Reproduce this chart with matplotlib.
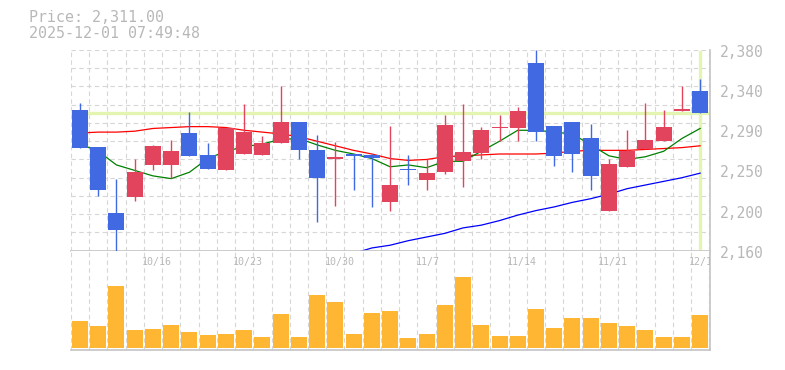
import numpy as np
import matplotlib
matplotlib.use('Agg')
import matplotlib.pyplot as plt
from matplotlib import transforms

# daily OHLC, 10/9 .. 12/1 (35 sessions)
opens = [2314, 2274, 2201, 2219, 2254, 2254, 2289, 2265, 2248, 2266, 2265, 2278,
         2301, 2270, 2260, 2266, 2265, 2213, 2250, 2237, 2246, 2258, 2267, 2294,
         2295, 2366, 2297, 2301, 2284, 2203, 2252, 2271, 2280, 2313, 2335]
highs = [2322, 2274, 2239, 2261, 2276, 2281, 2312, 2278, 2295, 2321, 2286, 2341,
         2301, 2287, 2279, 2266, 2266, 2297, 2265, 2260, 2309, 2321, 2296, 2309,
         2318, 2380, 2297, 2301, 2299, 2260, 2292, 2322, 2314, 2341, 2348]
lows = [2273, 2220, 2160, 2215, 2248, 2240, 2264, 2250, 2248, 2266, 2265, 2278,
        2261, 2191, 2209, 2226, 2208, 2203, 2232, 2226, 2244, 2230, 2261, 2280,
        2280, 2280, 2253, 2246, 2227, 2203, 2252, 2271, 2280, 2313, 2311]
closes = [2273, 2226, 2183, 2246, 2275, 2269, 2264, 2250, 2295, 2290, 2278, 2301,
          2270, 2240, 2263, 2264, 2262, 2232, 2248, 2245, 2298, 2268, 2292, 2296,
          2313, 2290, 2264, 2266, 2242, 2255, 2269, 2281, 2296, 2315, 2311]
volume = [267, 217, 617, 177, 187, 227, 157, 127, 137, 177, 107, 337,
          107, 527, 457, 137, 347, 367, 97, 137, 427, 707, 227, 117,
          117, 387, 197, 297, 297, 247, 217, 177, 107, 107, 327]

ma_short = [2277, 2269, 2254, 2248, 2242, 2239, 2246, 2261, 2269, 2274, 2277, 2282,
            2283, 2276, 2270, 2266, 2261, 2252, 2254, 2251, 2258, 2258, 2269, 2280,
            2292, 2292, 2290, 2288, 2276, 2264, 2260, 2263, 2269, 2283, 2294]
ma_mid = [2289, 2290, 2290, 2291, 2294, 2295, 2296, 2296, 2295, 2292, 2290, 2288,
          2285, 2280, 2275, 2270, 2266, 2261, 2259, 2260, 2263, 2264, 2265, 2266,
          2266, 2266, 2267, 2269, 2270, 2270, 2270, 2271, 2272, 2273, 2275]
ma_long = [None] * 15 + [2157, 2163, 2166, 2171, 2175, 2179, 2185, 2188, 2193, 2199,
                         2204, 2208, 2213, 2217, 2222, 2228, 2232, 2236, 2240, 2245]

date_labels = {4: '10/16', 9: '10/23', 14: '10/30', 19: '11/7',
               24: '11/14', 29: '11/21', 34: '12/1'}

UP = '#e2445e'
DOWN = '#4169e1'
GRID = '#d6d6d6'
AXIS = '#c4c4c4'
TEXT = '#b8b8b8'
MONO = 'DejaVu Sans Mono'

W, H = 785, 370
L, R = 70.7, 710
fig = plt.figure(figsize=(W / 100, H / 100), dpi=100)
ax = fig.add_axes([L / W, 1 - 250.7 / H, (R - L) / W, 200.7 / H])
axv = fig.add_axes([L / W, 1 - 350 / H, (R - L) / W, 99.3 / H])

x = np.arange(len(opens))
o = np.array(opens, float)
c = np.array(closes, float)
up = c >= o
colors = np.where(up, UP, DOWN)

for a in (ax, axv):
    a.set_xlim(-0.51, 34.54)
    for gx in np.arange(-0.5, 35, 1):
        a.axvline(gx, color=GRID, lw=0.8, ls=(0, (4, 3)), zorder=0)
    a.spines[['left', 'top']].set_visible(False)
    a.spines[['right', 'bottom']].set_color(AXIS)
    a.spines[['right', 'bottom']].set_linewidth(1.2)
    a.set_xticks([])
    a.set_yticks([])

# price panel
ax.set_ylim(2160, 2380)
for gy in range(2160, 2381, 20):
    ax.axhline(gy, color=GRID, lw=0.8, ls=(0, (4, 3)), zorder=0)

ax.axhline(closes[-1], color='#e3f5b0', lw=2.4, zorder=1)
ax.axvline(x[-1], ymin=0.013, ymax=0.99, color='#e3f5b0', lw=2.4, zorder=1)

ax.plot(x, ma_mid, color='#ff0000', lw=0.9, zorder=2)
ax.plot(x, ma_short, color='#008000', lw=0.9, zorder=2)
ax.plot(x, np.array(ma_long, dtype=float), color='#0000ff', lw=0.9, zorder=2,
        clip_on=False)

ax.vlines(x, lows, highs, colors=colors, lw=1.0, zorder=3)
body = np.maximum(np.abs(c - o), 1.6)
ax.bar(x, body, bottom=np.minimum(o, c), width=0.877, color=colors, zorder=4)

lab_tr = transforms.offset_copy(ax.get_yaxis_transform(), fig=fig, x=0, y=-2.5, units='dots')
for k in range(6):
    v = 2160 + 44 * k
    ax.text(1.0152, v, f'{round(v, -1):,}', transform=lab_tr, ha='left', va='center',
            fontsize=10.5, color=TEXT, family=MONO)

# volume panel
axv.set_ylim(-23, 970)
axv.bar(x, volume, width=0.877, color='#ffb733', zorder=3)
for i, lab in date_labels.items():
    axv.text(i - 0.6, 0.886, lab, transform=axv.get_xaxis_transform(), ha='left',
             va='center', fontsize=7.2, color=TEXT, family=MONO, clip_on=True)

fig.text(29 / W, 1 - 18 / H, 'Price: 2,311.00', ha='left', va='center',
         fontsize=10.8, color=TEXT, family=MONO)
fig.text(29 / W, 1 - 33 / H, '2025-12-01 07:49:48', ha='left', va='center',
         fontsize=10.8, color=TEXT, family=MONO)

fig.savefig('out.png', dpi=100)
